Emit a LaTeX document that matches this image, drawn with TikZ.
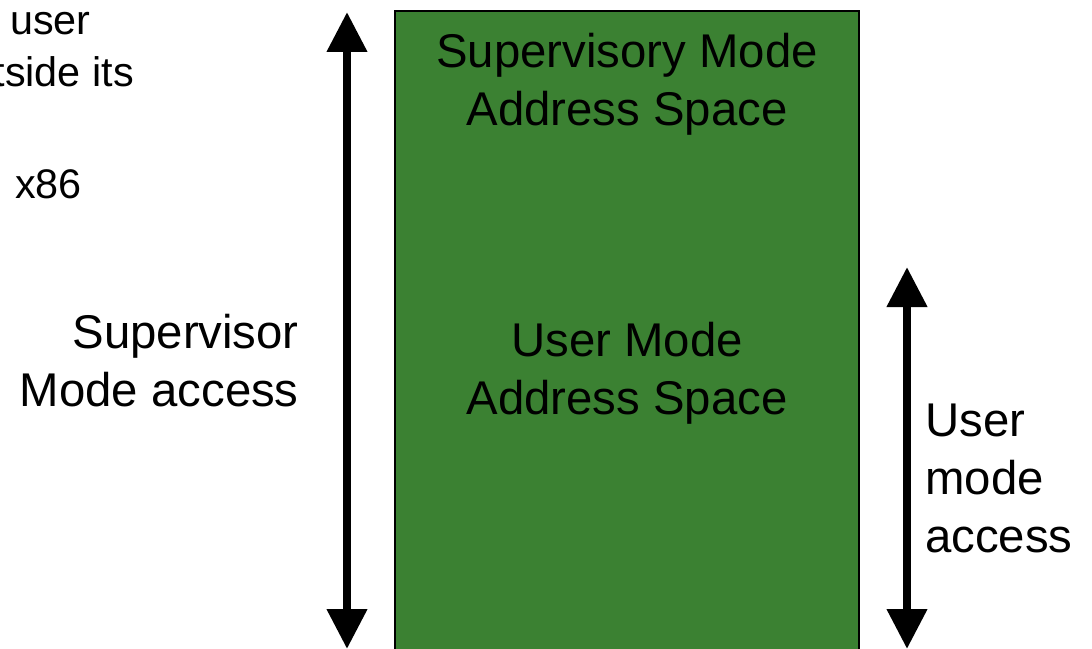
\documentclass[tikz,border=0pt]{standalone}
\usepackage{fontspec}
\setmainfont{Liberation Sans}
\usetikzlibrary{arrows.meta}
\definecolor{spacegreen}{RGB}{59,129,50}

\begin{document}
\begin{tikzpicture}[x=0.75pt,y=-0.75pt,
    lbl/.style={inner sep=0pt,font=\fontsize{35.5}{43.5}\selectfont},
    note/.style={inner sep=0pt,font=\fontsize{31}{38}\selectfont},
    addrspace/.style={draw=black,line width=1.5pt,fill=spacegreen},
    access/.style={line width=6.3pt,{Triangle[length=30pt,width=29pt]}-{Triangle[length=30pt,width=29pt]}},
  ]
  \useasboundingbox (0,0) rectangle (1092,649);
  \clip (0,0) rectangle (1092,649);

  % address space, runs off the bottom edge
  \draw[addrspace] (395,11) rectangle (859,690);
  % (base anchor sits on the last line)
  \node[lbl,align=center,anchor=base] (suptxt) at (627,126) {Supervisory Mode\\Address Space};
  \node[lbl,align=center,anchor=base] (usrtxt) at (627,414) {User Mode\\Address Space};

  % access ranges
  \coordinate (suptop) at (347,12);
  \coordinate (supbot) at (347,649);
  \coordinate (usrtop) at (907,267);
  \coordinate (usrbot) at (907,649);
  \draw[access] (suptop) -- (supbot);
  \draw[access] (usrtop) -- (usrbot);

  \node[lbl,align=right,anchor=base east] (supacc) at (299,406) {Supervisor\\Mode access};
  \node[lbl,align=left,anchor=base west] (usracc) at (925,552) {User\\mode\\access};

  % leftover text at the left edge
  \node[note,anchor=base east] (note1) at (91,35) {user};
  \node[note,anchor=base east] (note2) at (134,87) {outside its};
  \node[note,anchor=base east] (note3) at (82,199) {x86};
\end{tikzpicture}
\end{document}
